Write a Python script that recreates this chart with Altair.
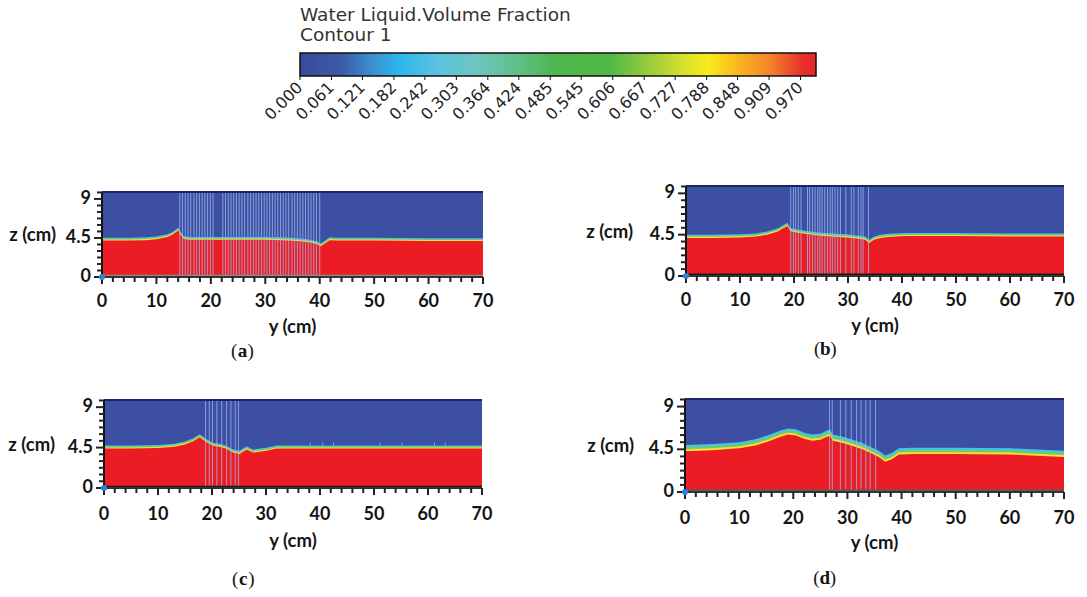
import altair as alt
import pandas as pd

W, H = 1087, 597
ZTOP = 9.8

# ---- colour bar of the water volume fraction ----
bar_labels = ["0.000", "0.061", "0.121", "0.182", "0.242", "0.303", "0.364", "0.424",
              "0.485", "0.545", "0.606", "0.667", "0.727", "0.788", "0.848", "0.909", "0.970"]
bar_stop_pos = [0.00, 0.08, 0.14, 0.19, 0.27, 0.34, 0.42, 0.50, 0.60, 0.68, 0.74, 0.79, 0.85, 0.91, 0.97, 1.00]
bar_stop_col = ["#3a4a9c", "#3d5aa8", "#3a8fd0", "#2cb6ec", "#5cc3de", "#6ec5c0", "#62bf8a", "#4cb74a",
                "#52b848", "#9ccc3c", "#d7df2c", "#f8ec1c", "#f9b61e", "#f3852a", "#e9352a", "#e52428"]

# ---- free-surface profiles z(y) in cm ----
ya = [0, 5, 8, 10, 12, 13, 14, 14.4, 15, 16, 18, 22, 26, 30, 33, 36, 38, 39.5, 40.2, 41, 41.8, 43, 50, 60, 70]
za = [4.2, 4.2, 4.25, 4.35, 4.6, 4.9, 5.35, 4.9, 4.4, 4.3, 4.3, 4.3, 4.3, 4.3, 4.25, 4.15, 4.0, 3.8, 3.55, 3.9, 4.25, 4.2, 4.2, 4.15, 4.15]

yb = [0, 5, 10, 13, 15, 17, 18, 18.8, 19.3, 20, 22, 24.5, 27, 29.7, 32, 33.2, 33.9, 34.8, 36, 37.4, 40.6, 45, 50, 60, 70]
zb = [4.15, 4.15, 4.2, 4.3, 4.5, 4.85, 5.2, 5.45, 4.9, 4.8, 4.6, 4.4, 4.3, 4.2, 4.05, 3.95, 3.6, 3.95, 4.15, 4.25, 4.35, 4.35, 4.35, 4.3, 4.3]

yc = [0, 5, 10, 13, 15, 16.5, 17.7, 18.3, 19, 20.2, 21.4, 22.6, 23.9, 25.1, 26.4, 27.6, 30.1, 31.9, 35, 50, 70]
zc = [4.4, 4.4, 4.45, 4.6, 4.85, 5.2, 5.65, 5.4, 5.1, 4.7, 4.6, 4.4, 3.95, 3.8, 4.3, 3.95, 4.15, 4.4, 4.4, 4.4, 4.4]

yd = [0, 5, 10, 13, 15.5, 17.5, 19, 20.5, 22, 23.5, 25, 26.3, 26.8, 27.3, 29, 31, 33, 34.5, 35.8, 37, 38.2, 39.5, 42, 50, 60, 70]
zd = [4.3, 4.4, 4.6, 4.9, 5.35, 5.8, 6.05, 5.95, 5.6, 5.4, 5.5, 5.85, 5.9, 5.4, 5.2, 4.85, 4.45, 4.05, 3.7, 3.2, 3.45, 3.95, 4.0, 4.0, 3.95, 3.7]

# small droplets standing on the surface downstream in (c)
spikes_c = [38.2, 40.5, 42.5, 51.1, 55.2, 61.2, 63.2]

# ---- stem positions y (cm) ----
stems_a = [14.3, 14.8, 15.3, 15.8, 16.3, 16.9, 17.4, 17.9, 18.4, 18.9, 19.4, 19.9, 20.4,
           22.2, 22.7, 23.2, 23.7, 24.2, 24.7, 25.2, 25.7, 26.2, 26.8, 27.3, 27.8, 28.3, 28.8,
           29.3, 29.8, 30.3, 30.8, 31.3, 31.8, 32.3, 32.8, 33.3, 33.8, 34.3, 34.9, 35.4, 35.9,
           36.4, 36.9, 37.4, 37.9, 38.4, 38.9, 39.4, 40.0]
stems_b = [19.4, 19.9, 20.3, 20.8, 21.3, 22.5, 22.9, 23.4, 23.9, 24.4, 24.8, 25.2, 25.7, 26.2,
           26.7, 27.1, 27.6, 28.1, 28.6, 29.6, 30.6, 31.1, 31.9, 32.4, 32.8, 33.8]
stems_c = [18.8, 19.5, 20.1, 20.9, 21.8, 22.7, 23.5, 24.3, 24.9]
stems_d = [26.7, 27.2, 28.7, 29.7, 30.7, 31.7, 32.5, 33.4, 34.2, 35.2]

# ---- axis ticks ----
x_major = [0, 10, 20, 30, 40, 50, 60, 70]
x_minor = [2, 4, 6, 8, 12, 14, 16, 18, 22, 24, 26, 28, 32, 34, 36, 38, 42, 44, 46, 48,
           52, 54, 56, 58, 62, 64, 66, 68]
z_major = [0, 4.5, 9]
z_major_txt = ["0", "4.5", "9"]
z_minor = [0.75, 1.5, 2.25, 3, 3.75, 5.25, 6, 6.75, 7.5, 8.25, 9.75]

AIR = "#3c4fa2"
WATER = "#ec1c24"
STEM = "#9fbcf0"
AX_FONT = "Lato"
INK = "#141414"


def panel(letter, ys, zs, stems, xr, zr, band, title_dx, lab_y, ttl_y, cap_y, bed_color, spikes=None):
    xs = alt.Scale(domain=[0, 70], range=xr)
    zsc = alt.Scale(domain=[0, ZTOP], range=zr)
    x0px, z0px = xr[0], zr[0]

    def X(f):
        return alt.X(f, scale=xs, axis=None)

    def Y(f):
        return alt.Y(f, scale=zsc, axis=None)

    frame = pd.DataFrame({"x0": [0], "x1": [70], "z0": [0], "z1": [ZTOP]})
    layers = [alt.Chart(frame).mark_rect(color=AIR).encode(
        x=X("x0:Q"), x2="x1:Q", y=Y("z0:Q"), y2="z1:Q")]

    # water column with the thin mixed layer on top of it
    prof = pd.DataFrame({"y": ys, "z": zs})
    prof["z_yel"] = prof["z"] + band[0]
    prof["z_grn"] = prof["z"] + band[1]
    prof["z_cyn"] = prof["z"] + band[2]
    base = alt.Chart(prof)
    for col, colr in [("z_cyn", "#3fc6ea"), ("z_grn", "#7cc85a"), ("z_yel", "#f3e23a"), ("z", WATER)]:
        layers.append(base.mark_area(color=colr).encode(x=X("y:Q"), y=Y(f"{col}:Q")))

    if spikes:
        level = zs[-1] + band[2]
        sp = pd.DataFrame({"s": spikes, "lo": [level] * len(spikes), "hi": [level + 0.35] * len(spikes)})
        layers.append(alt.Chart(sp).mark_rule(color="#3fc6ea", strokeWidth=1).encode(
            x=X("s:Q"), y=Y("lo:Q"), y2="hi:Q"))

    # vegetation stems
    sdf = pd.DataFrame({"s": stems, "lo": [0.0] * len(stems), "hi": [ZTOP] * len(stems)})
    layers.append(alt.Chart(sdf).mark_rule(color=STEM, strokeWidth=1, opacity=0.75).encode(
        x=X("s:Q"), y=Y("lo:Q"), y2="hi:Q"))

    # top lid and bed lines
    lid = pd.DataFrame({"a": [0], "b": [70], "z": [ZTOP]})
    layers.append(alt.Chart(lid).mark_rule(color="#1b2566", strokeWidth=2).encode(
        x=X("a:Q"), x2="b:Q", y=Y("z:Q")))
    bed = pd.DataFrame({"a": [0], "b": [70], "z": [0.15]})
    layers.append(alt.Chart(bed).mark_rule(color=bed_color, strokeWidth=2).encode(
        x=X("a:Q"), x2="b:Q", y=Y("z:Q")))

    # axis lines
    xline = pd.DataFrame({"a": [0], "b": [70], "z": [0]})
    layers.append(alt.Chart(xline).mark_rule(color="#333", strokeWidth=2).encode(
        x=X("a:Q"), x2="b:Q", y=Y("z:Q")))
    yline = pd.DataFrame({"a": [0], "lo": [0], "hi": [ZTOP]})
    layers.append(alt.Chart(yline).mark_rule(color="#111", strokeWidth=2).encode(
        x=X("a:Q"), y=Y("lo:Q"), y2="hi:Q"))

    # ticks
    layers.append(alt.Chart(pd.DataFrame({"t": x_major})).mark_rule(color="#222", strokeWidth=2).encode(
        x=X("t:Q"), y=alt.value(z0px), y2=alt.value(z0px + 7)))
    layers.append(alt.Chart(pd.DataFrame({"t": x_minor})).mark_rule(color="#222", strokeWidth=2).encode(
        x=X("t:Q"), y=alt.value(z0px), y2=alt.value(z0px + 5)))
    layers.append(alt.Chart(pd.DataFrame({"t": z_major})).mark_rule(color="#222", strokeWidth=2).encode(
        y=Y("t:Q"), x=alt.value(x0px - 8), x2=alt.value(x0px)))
    layers.append(alt.Chart(pd.DataFrame({"t": z_minor})).mark_rule(color="#222", strokeWidth=2).encode(
        y=Y("t:Q"), x=alt.value(x0px - 5), x2=alt.value(x0px)))

    # tick labels and axis titles
    txt = dict(font=AX_FONT, fontWeight="bold", color=INK, baseline="middle")
    layers.append(alt.Chart(pd.DataFrame({"t": x_major, "s": [str(v) for v in x_major]})).mark_text(
        align="center", fontSize=18, **txt).encode(x=X("t:Q"), y=alt.value(lab_y), text="s:N"))
    layers.append(alt.Chart(pd.DataFrame({"t": z_major, "s": z_major_txt})).mark_text(
        align="right", fontSize=18, **txt).encode(y=Y("t:Q"), x=alt.value(x0px - 11), text="s:N"))
    layers.append(alt.Chart(pd.DataFrame({"t": [4.5]})).mark_text(
        align="right", text="z (cm)", dy=-3, fontSize=18.5, **txt).encode(
        y=Y("t:Q"), x=alt.value(x0px - title_dx)))
    layers.append(alt.Chart(pd.DataFrame({"t": [35]})).mark_text(
        align="center", text="y (cm)", fontSize=18.5, **txt).encode(x=X("t:Q"), y=alt.value(ttl_y)))

    # origin marker
    origin = pd.DataFrame({"a": [0.0], "z": [0.0]})
    layers.append(alt.Chart(origin).mark_circle(color="#2f80d8", size=36, opacity=1).encode(
        x=X("a:Q"), y=Y("z:Q")))

    # panel caption, letter in bold
    cap = pd.DataFrame({"a": [25.8]})
    for s, dx, align, weight in [("(", -5, "right", "normal"), (letter, 0, "center", "bold"),
                                 (")", 5, "left", "normal")]:
        layers.append(alt.Chart(cap).mark_text(
            text=s, font="Liberation Serif", fontSize=19, fontWeight=weight, color=INK,
            align=align, baseline="middle", dx=dx).encode(x=X("a:Q"), y=alt.value(cap_y)))
    return alt.layer(*layers)


pa = panel("a", ya, za, stems_a, [102, 483], [277, 192], (0.12, 0.2, 0.32), 46, 302, 327, 351, "#8a8a8a")
pb = panel("b", yb, zb, stems_b, [686, 1064], [276, 186], (0.12, 0.22, 0.34), 53, 301, 326, 349, "#1a1a1a")
pc = panel("c", yc, zc, stems_c, [104, 482], [488, 400], (0.12, 0.22, 0.34), 49, 515, 541, 579, "#1a1a1a",
           spikes=spikes_c)
pd_ = panel("d", yd, zd, stems_d, [685, 1064], [492, 399], (0.2, 0.42, 0.65), 51, 519, 543, 578, "#5a5a5a")

# ---- colour bar ----
bx = alt.Scale(domain=[0, 1], range=[300, 816])
bar_df = pd.DataFrame({"lo": [0.0], "hi": [1.0]})
grad = alt.LinearGradient(
    gradient="linear", x1=0, x2=1, y1=0, y2=0,
    stops=[alt.GradientStop(offset=o, color=c) for o, c in zip(bar_stop_pos, bar_stop_col)])
bar = alt.Chart(bar_df).mark_rect(color=grad, stroke="#111", strokeWidth=1.5).encode(
    x=alt.X("lo:Q", scale=bx, axis=None), x2="hi:Q",
    y=alt.value(53), y2=alt.value(76))
lab_df = pd.DataFrame({"v": [float(s) for s in bar_labels], "s": bar_labels})
bar_ticks = alt.Chart(lab_df).mark_rule(color="#111", strokeWidth=1).encode(
    x=alt.X("v:Q", scale=bx, axis=None), y=alt.value(76), y2=alt.value(80))
bar_text = alt.Chart(lab_df).mark_text(
    font="DejaVu Sans", fontSize=16, color="#222", angle=315, align="right", baseline="middle").encode(
    x=alt.X("v:Q", scale=bx, axis=None), y=alt.value(85), text="s:N")
head = pd.DataFrame({"a": [0.0]})
t1 = alt.Chart(head).mark_text(text="Water Liquid.Volume Fraction", font="DejaVu Sans", fontSize=18.5,
                               color="#333", align="left", baseline="middle").encode(
    x=alt.X("a:Q", scale=bx, axis=None), y=alt.value(15))
t2 = alt.Chart(head).mark_text(text="Contour 1", font="DejaVu Sans", fontSize=18.5,
                               color="#333", align="left", baseline="middle").encode(
    x=alt.X("a:Q", scale=bx, axis=None), y=alt.value(35))
legend_bar = alt.layer(bar, bar_ticks, bar_text, t1, t2)

chart = alt.layer(legend_bar, pa, pb, pc, pd_).resolve_scale(
    x="independent", y="independent").properties(
    width=W, height=H, padding=0, autosize=alt.AutoSizeParams(type="none"),
    background="white").configure_view(stroke=None)

chart.save("out.html", embed_options={"renderer": "svg", "actions": False})
